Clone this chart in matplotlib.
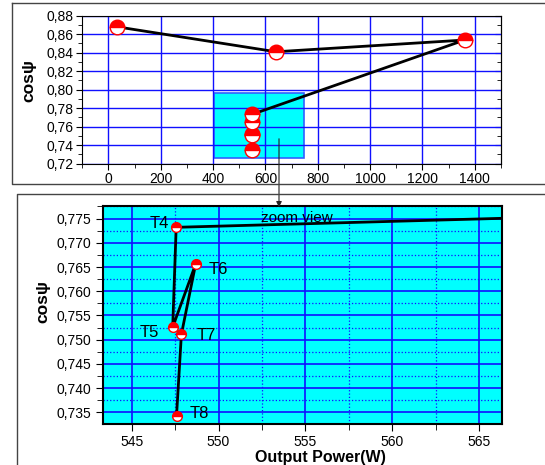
import numpy as np
import matplotlib
matplotlib.use("Agg")
import matplotlib.pyplot as plt
from matplotlib.patches import Rectangle, FancyArrowPatch
from matplotlib.lines import Line2D
from matplotlib.ticker import MultipleLocator, FuncFormatter

plt.rcParams['font.family'] = ['Liberation Sans', 'DejaVu Sans']

# Data (output power in W, power factor cos psi)
power = [32.5, 640, 1361, 547.56, 547.36, 548.68, 547.86, 547.58]
cos_psi = [0.868, 0.841, 0.8537, 0.7732, 0.7526, 0.7656, 0.7511, 0.7343]

# labels for the zoomed points (T4..T8 are the last five)
point_names = ["T4", "T5", "T6", "T7", "T8"]
label_x = [547.16, 546.57, 549.43, 548.76, 548.32]
label_y = [0.7739, 0.7514, 0.7644, 0.7508, 0.7348]
label_ha = ["right", "right", "left", "left", "left"]

# zoom region shown in the top panel
zoom_x = (403, 748)
zoom_y = (0.726, 0.796)

W, H = 545, 465
fig = plt.figure(figsize=(W / 100, H / 100), dpi=100)


def px(x0, y0, x1, y1):
    # pixel box -> figure fraction [left, bottom, width, height]
    return [x0 / W, 1 - y1 / H, (x1 - x0) / W, (y1 - y0) / H]


def comma(dec):
    return FuncFormatter(lambda v, p: f"{v:.{dec}f}".replace(".", ","))


blue = "#1010ff"
cyan = "#00ffff"

# outer frames
fig.add_artist(Line2D([12.3 / W, 12.3 / W, 1], [1 - 2.7 / H, 1 - 184 / H, 1 - 184 / H],
                      transform=fig.transFigure, color="#444444", lw=1))
fig.add_artist(Line2D([12.3 / W, 1], [1 - 2.7 / H, 1 - 2.7 / H],
                      transform=fig.transFigure, color="#444444", lw=1))
fig.add_artist(Line2D([16.7 / W, 16.7 / W, 1], [0, 1 - 194 / H, 1 - 194 / H],
                      transform=fig.transFigure, color="#444444", lw=1))

mk = dict(marker="o", fillstyle="top", markerfacecolor="red",
          markerfacecoloralt="white", markeredgecolor="red")

# ---- top panel
ax1 = fig.add_axes(px(82.3, 15.7, 501, 163.7))
ax1.add_patch(Rectangle((zoom_x[0], zoom_y[0]), zoom_x[1] - zoom_x[0], zoom_y[1] - zoom_y[0],
                        facecolor=cyan, edgecolor="#3060ff", lw=1.2, zorder=1))
ax1.plot(power, cos_psi, color="black", lw=2, markersize=10.5, zorder=3, **mk)
ax1.set_xlim(-100, 1500)
ax1.set_ylim(0.72, 0.88)
ax1.xaxis.set_major_locator(MultipleLocator(200))
ax1.xaxis.set_minor_locator(MultipleLocator(100))
ax1.yaxis.set_major_locator(MultipleLocator(0.02))
ax1.yaxis.set_minor_locator(MultipleLocator(0.01))
ax1.yaxis.set_major_formatter(comma(2))
ax1.grid(True, which="major", color=blue, lw=1)
ax1.tick_params(which="both", direction="out", labelsize=10, pad=2)
ax1.tick_params(which="major", length=4)
ax1.tick_params(which="minor", length=3)
ax1.set_ylabel("cosψ", fontsize=12.5, fontweight="bold")
ax1.yaxis.set_label_coords(-0.11, 0.56)
sec = ax1.secondary_yaxis("right")
sec.yaxis.set_major_locator(MultipleLocator(0.02))
sec.yaxis.set_minor_locator(MultipleLocator(0.01))
sec.tick_params(which="both", direction="in", labelright=False)
sec.tick_params(which="major", length=4)
sec.tick_params(which="minor", length=3)

# ---- bottom panel (zoom view)
ax2 = fig.add_axes(px(102.7, 206, 501.7, 424))
ax2.set_facecolor(cyan)
ax2.plot(power, cos_psi, color="black", lw=2, markersize=7, zorder=3, **mk)
for name, lx, ly, ha in zip(point_names, label_x, label_y, label_ha):
    ax2.text(lx, ly, name, fontsize=12, ha=ha, va="center", zorder=4)
ax2.text(554.5, 0.7751, "zoom view", fontsize=11, ha="center", va="center", zorder=2.8)
ax2.set_xlim(543.33, 566.3)
ax2.set_ylim(0.7326, 0.7776)
ax2.xaxis.set_major_locator(MultipleLocator(5))
ax2.xaxis.set_minor_locator(MultipleLocator(2.5))
ax2.yaxis.set_major_locator(MultipleLocator(0.005))
ax2.yaxis.set_minor_locator(MultipleLocator(0.0025))
ax2.xaxis.set_major_formatter(FuncFormatter(lambda v, p: f"{v:.0f}"))
ax2.yaxis.set_major_formatter(comma(3))
ax2.grid(True, which="major", color=blue, lw=1.2)
ax2.grid(True, which="minor", color=blue, lw=0.9, ls=":")
ax2.tick_params(which="both", direction="out", labelsize=10, pad=3)
ax2.tick_params(which="major", length=5)
ax2.tick_params(which="minor", length=4)
for sp in ax2.spines.values():
    sp.set_linewidth(1.5)
ax2.set_ylabel("cosψ", fontsize=12.5, fontweight="bold")
ax2.yaxis.set_label_coords(-0.131, 0.56)
ax2.set_xlabel("Output Power(W)", fontsize=11.5, fontweight="bold")
ax2.xaxis.set_label_coords(0.545, -0.117)

# arrow from the zoom box down to the zoom view
fig.add_artist(FancyArrowPatch((279 / W, 1 - 136 / H), (279 / W, 1 - 210 / H),
                               transform=fig.transFigure, arrowstyle="-|>",
                               mutation_scale=8, color="#222222", lw=0.8))

fig.savefig("out.png", dpi=100)
